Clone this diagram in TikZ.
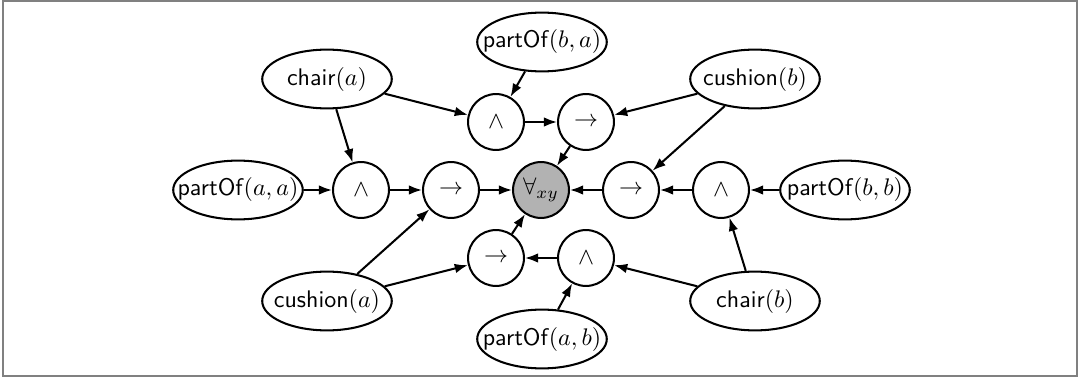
\documentclass[tikz,border=0pt]{standalone}
\usepackage{tikz}
\usetikzlibrary{shapes.geometric,arrows.meta}

\newcommand{\atomlabel}[2]{\makebox[0pt]{\textsf{#1}$(#2)$}}

\tikzset{
  atom/.style={draw,ellipse,line width=0.85pt,inner sep=0pt,
    minimum width=54pt,minimum height=24.5pt},
  conn/.style={draw,circle,line width=0.85pt,inner sep=0pt,minimum size=23.3pt},
  quant/.style={conn,fill=gray!60},
  link/.style={-{Latex[length=5.5pt,width=4pt]},line width=0.85pt}
}

\begin{document}
\begin{tikzpicture}[x=0.4167pt,y=-0.4167pt]
            \useasboundingbox (0,0) rectangle (1078,377);
            \draw[gray,line width=0.5pt] (3,1) rectangle (1077,376);

            % quantifier in the middle
            \node[quant] (all) at (541,190) {$\forall_{xy}$};

            % connectives
            \node[conn] (andT) at (496,122) {$\wedge$};
            \node[conn] (impT) at (586,122) {$\rightarrow$};
            \node[conn] (andL) at (361,190) {$\wedge$};
            \node[conn] (impL) at (451,190) {$\rightarrow$};
            \node[conn] (impR) at (631,190) {$\rightarrow$};
            \node[conn] (andR) at (721,190) {$\wedge$};
            \node[conn] (impB) at (496,258) {$\rightarrow$};
            \node[conn] (andB) at (586,258) {$\wedge$};

            % atoms
            \node[atom] (partBA) at (542,42) {\atomlabel{partOf}{b,a}};
            \node[atom] (chairA) at (327,79) {\atomlabel{chair}{a}};
            \node[atom] (cushB) at (755,79) {\atomlabel{cushion}{b}};
            \node[atom] (partAA) at (238,190) {\atomlabel{partOf}{a,a}};
            \node[atom] (partBB) at (845,190) {\atomlabel{partOf}{b,b}};
            \node[atom] (cushA) at (327,301) {\atomlabel{cushion}{a}};
            \node[atom] (chairB) at (755,301) {\atomlabel{chair}{b}};
            \node[atom] (partAB) at (542,339) {\atomlabel{partOf}{a,b}};

            \draw[link] (chairA) -- (andT);
            \draw[link] (chairA) -- (andL);
            \draw[link] (partBA) -- (andT);
            \draw[link] (andT) -- (impT);
            \draw[link] (cushB) -- (impT);
            \draw[link] (cushB) -- (impR);
            \draw[link] (impT) -- (all);

            \draw[link] (partAA) -- (andL);
            \draw[link] (andL) -- (impL);
            \draw[link] (impL) -- (all);
            \draw[link] (partBB) -- (andR);
            \draw[link] (andR) -- (impR);
            \draw[link] (impR) -- (all);

            \draw[link] (cushA) -- (impL);
            \draw[link] (cushA) -- (impB);
            \draw[link] (andB) -- (impB);
            \draw[link] (impB) -- (all);
            \draw[link] (partAB) -- (andB);
            \draw[link] (chairB) -- (andB);
            \draw[link] (chairB) -- (andR);
\end{tikzpicture}
\end{document}
